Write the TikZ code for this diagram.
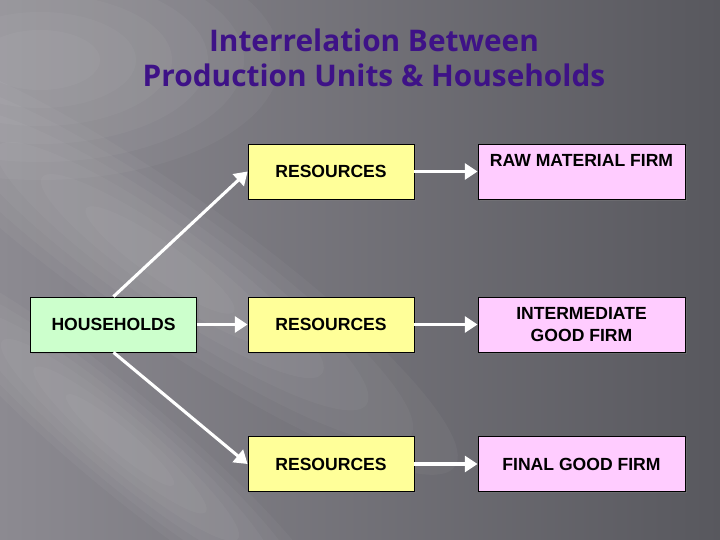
\documentclass[tikz,border=0pt]{standalone}
\usepackage{fontspec}
\setmainfont{Liberation Sans}
\newfontfamily\titlefont{Open Sans}
\usetikzlibrary{arrows.meta,shadows}
\definecolor{titlepurple}{RGB}{62,18,135}
\definecolor{bgleft}{RGB}{140,138,145}
\definecolor{bgright}{RGB}{88,88,94}
\definecolor{housegreen}{RGB}{204,255,204}
\definecolor{resyellow}{RGB}{255,255,153}
\definecolor{firmpink}{RGB}{255,204,255}
\tikzset{
	boxbase/.style={draw=black, line width=0.6pt, font=\fontsize{12.5}{15}\selectfont\bfseries, align=center, minimum height=1.375cm, inner sep=0pt, drop shadow={opacity=0.35, shadow xshift=0.5mm, shadow yshift=-0.5mm}},
	housebox/.style={boxbase, fill=housegreen, minimum width=4.15cm},
	resbox/.style={boxbase, fill=resyellow, minimum width=4.15cm},
	firmbox/.style={boxbase, fill=firmpink, minimum width=5.175cm},
	flow/.style={draw=white, line width=2.2pt, -{Triangle[length=3.2mm,width=4mm]}},
	glow/.style={fill=white, opacity=0.035}
}
\begin{document}
\begin{tikzpicture}
		%%%%% START %%%%%
		
		\useasboundingbox (0, 0) rectangle (18, 13.5);
		\clip (0, 0) rectangle (18, 13.5);
		\shade[left color=bgleft, right color=bgright] (0, 0) rectangle (18, 13.5);
		\foreach \s in {1, 0.85, 0.7, 0.55, 0.4, 0.25} {
			\fill[glow, rotate around={-35:(4, 7)}] (4, 7) ellipse ({9*\s} and {1.8*\s});
			\fill[glow, rotate around={-40:(3, 2.5)}] (3, 2.5) ellipse ({7*\s} and {1.2*\s});
			\fill[glow] (1, 12) ellipse ({6*\s} and {3*\s});
		}
		
		\node[text=titlepurple, font=\titlefont\bfseries\fontsize{21.2}{24.5}\selectfont, align=center] (title) at (9.35, 12.05) {Interrelation Between\\Production Units \& Households};
		
		\node[housebox] (house) at (2.8375, 5.3875) {HOUSEHOLDS};
		
		\node[resbox] (res1) at (8.275, 9.2125) {RESOURCES};
		\node[resbox] (res2) at (8.275, 5.3875) {RESOURCES};
		\node[resbox] (res3) at (8.275, 1.9) {RESOURCES};
		
		\node[firmbox] (firm1) at (14.5375, 9.2125) {RAW MATERIAL FIRM\\\mbox{}};
		\node[firmbox] (firm2) at (14.5375, 5.3875) {INTERMEDIATE\\GOOD FIRM};
		\node[firmbox] (firm3) at (14.5375, 1.9) {FINAL GOOD FIRM};
		
		\draw[flow] (house.north) -- (res1.west);
		\draw[flow] (house.east) -- (res2.west);
		\draw[flow] (house.south) -- (res3.west);
		
		\draw[flow] (res1.east) -- (firm1.west);
		\draw[flow] (res2.east) -- (firm2.west);
		\draw[flow] (res3.east) -- (firm3.west);
		
		%%%%% END %%%%%
	\end{tikzpicture}
\end{document}
